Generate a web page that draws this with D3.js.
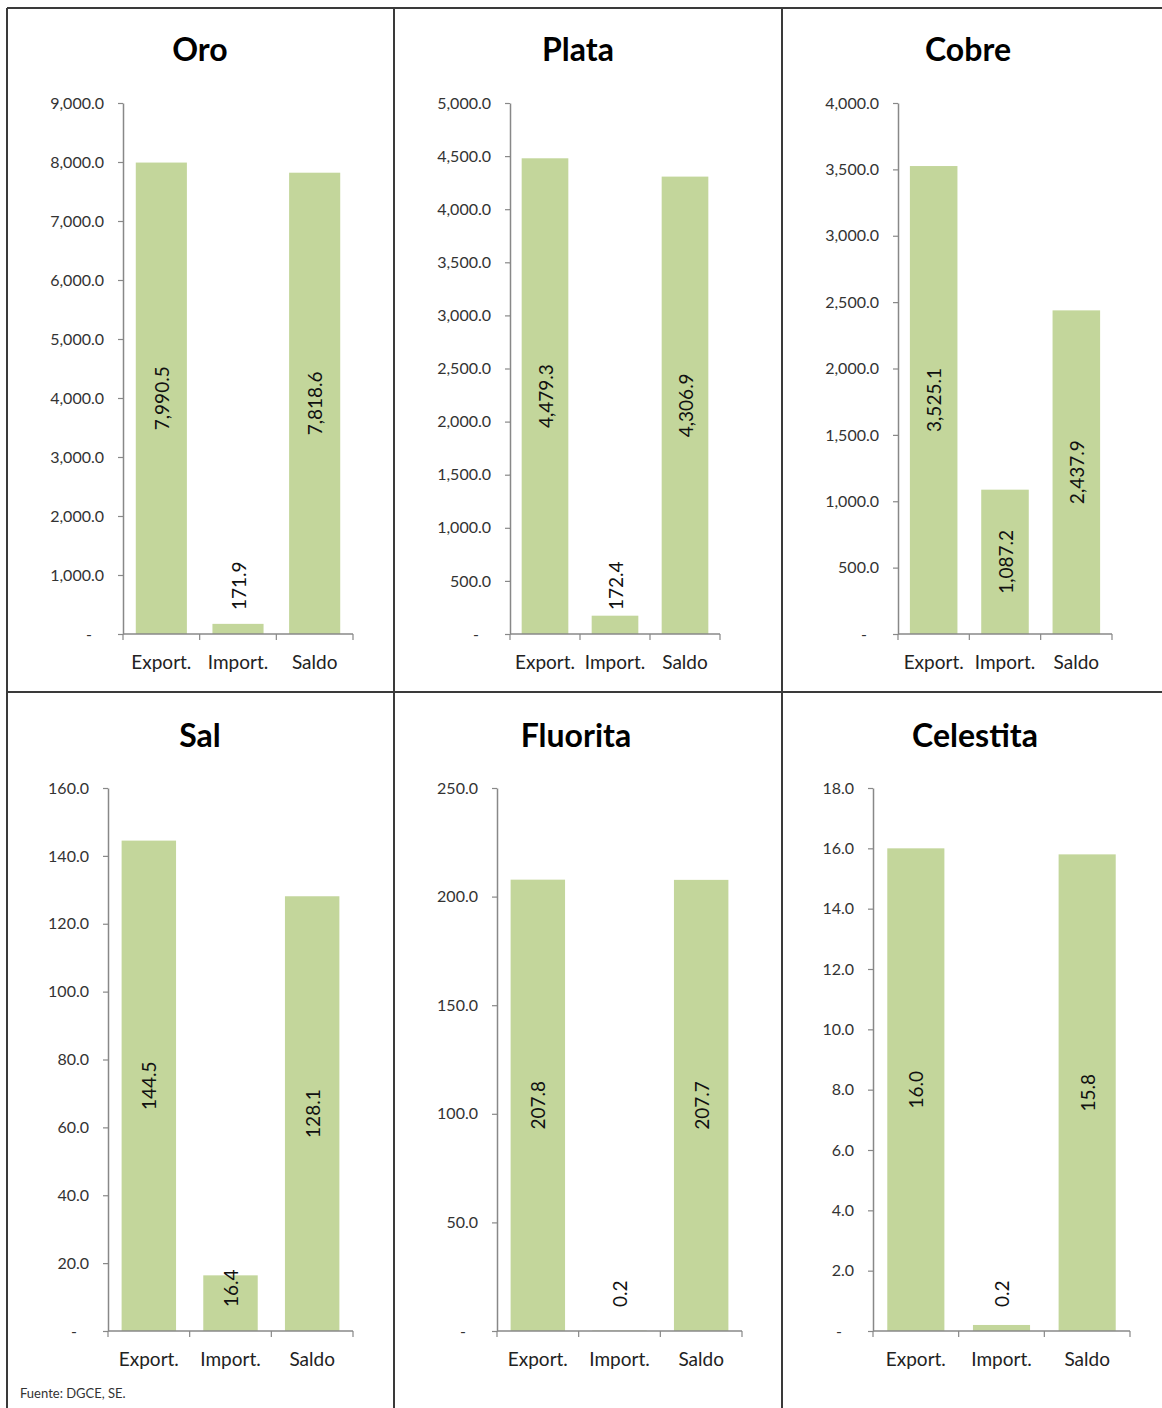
<!DOCTYPE html>
<html>
<head>
<meta charset="utf-8">
<script src="https://cdn.jsdelivr.net/npm/d3@7"></script>
<style>
  html, body { margin: 0; padding: 0; background: #fff; }
  svg { display: block; }
  text { font-family: Lato, "Open Sans", sans-serif; }
</style>
</head>
<body>
<svg id="chart" width="1162" height="1408"></svg>
<script>
// ---- data ----
const titles = ["Oro", "Plata", "Cobre", "Sal", "Fluorita", "Celestita"];
const categories = ["Export.", "Import.", "Saldo"];
const oroValues = [7990.5, 171.9, 7818.6];
const plataValues = [4479.3, 172.4, 4306.9];
const cobreValues = [3525.1, 1087.2, 2437.9];
const salValues = [144.5, 16.4, 128.1];
const fluoritaValues = [207.8, 0.2, 207.7];
const celestitaValues = [16.0, 0.2, 15.8];
const axisMax = [9000, 5000, 4000, 160, 250, 18];
const tickStep = [1000, 500, 500, 20, 50, 2];
const source = "Fuente: DGCE, SE.";

const seriesValues = [oroValues, plataValues, cobreValues, salValues, fluoritaValues, celestitaValues];

// ---- layout ----
const layout = [
  { x0: 123, x1: 353, yT: 103, yB: 634, tx: 200, ty: 61 },
  { x0: 510, x1: 720, yT: 103, yB: 634, tx: 578, ty: 61 },
  { x0: 898, x1: 1112, yT: 103, yB: 634, tx: 968, ty: 61 },
  { x0: 108, x1: 353, yT: 788, yB: 1331, tx: 200, ty: 747 },
  { x0: 497, x1: 742, yT: 788, yB: 1331, tx: 576, ty: 747 },
  { x0: 873, x1: 1130, yT: 788, yB: 1331, tx: 975, ty: 747 }
];

const barColor = "#c3d69b";
const axisColor = "#888888";
const svg = d3.select("#chart");
const fmt = d3.format(",.1f");

titles.forEach((title, i) => {
  const L = layout[i];
  const vals = seriesValues[i];
  const g = svg.append("g");

  const x = d3.scaleBand().domain(categories).range([L.x0, L.x1]).padding(0);
  const y = d3.scaleLinear().domain([0, axisMax[i]]).range([L.yB, L.yT]);

  // title
  g.append("text")
    .attr("x", L.tx).attr("y", L.ty)
    .attr("text-anchor", "middle")
    .attr("font-size", 32).attr("font-weight", 700)
    .attr("fill", "#000")
    .text(title);

  // bars
  const bw = x.bandwidth() * 2 / 3;
  g.selectAll("rect.bar").data(vals).join("rect")
    .attr("class", "bar")
    .attr("x", (d, j) => x(categories[j]) + (x.bandwidth() - bw) / 2)
    .attr("width", bw)
    .attr("y", d => y(d))
    .attr("height", d => y(0) - y(d))
    .attr("fill", barColor);

  // y axis
  const yAxis = d3.axisLeft(y)
    .tickValues(d3.range(0, axisMax[i] + tickStep[i] / 2, tickStep[i]))
    .tickFormat(d => d === 0 ? "-" : fmt(d))
    .tickSize(5).tickSizeOuter(0).tickPadding(14);
  const ya = g.append("g").attr("transform", `translate(${L.x0},0)`).call(yAxis);
  ya.select(".domain").attr("stroke", axisColor).attr("stroke-width", 1.5);
  ya.selectAll(".tick line").attr("stroke", axisColor).attr("stroke-width", 1.2);
  ya.selectAll(".tick text")
    .attr("font-size", 16).attr("fill", "#333")
    .attr("font-family", "Lato, 'Open Sans', sans-serif")
    .attr("dx", d => d === 0 ? -12 : 0);

  // x axis
  const xa = g.append("g").attr("transform", `translate(0,${L.yB})`);
  xa.append("line")
    .attr("x1", L.x0).attr("x2", L.x1).attr("y1", 0).attr("y2", 0)
    .attr("stroke", axisColor).attr("stroke-width", 1.5);
  const edges = categories.map(c => x(c)).concat([x.range()[1]]);
  xa.selectAll("line.tk").data(edges).join("line")
    .attr("class", "tk")
    .attr("x1", d => d).attr("x2", d => d)
    .attr("y1", 0).attr("y2", 6)
    .attr("stroke", axisColor).attr("stroke-width", 1.2);
  xa.selectAll("text.cat").data(categories).join("text")
    .attr("class", "cat")
    .attr("x", d => x(d) + x.bandwidth() / 2)
    .attr("y", 35)
    .attr("text-anchor", "middle")
    .attr("font-size", 19).attr("fill", "#222")
    .text(d => d);

  // value labels
  const labels = g.selectAll("text.val").data(vals).join("text")
    .attr("class", "val")
    .attr("font-size", 19).attr("fill", "#111")
    .attr("text-anchor", "middle")
    .attr("dominant-baseline", "central")
    .text(d => fmt(d));
  labels.each(function(d, j) {
    const len = this.getComputedTextLength();
    const cx = x(categories[j]) + x.bandwidth() / 2;
    const mid = (y(d) + y(0)) / 2;
    const cy = Math.min(mid, y(0) - 24 - len / 2);
    d3.select(this).attr("transform", `translate(${cx},${cy}) rotate(-90)`);
  });
});

// panel borders
const border = svg.append("g").attr("stroke", "#3a3a3a").attr("stroke-width", 2).attr("fill", "none");
border.append("line").attr("x1", 7).attr("x2", 1162).attr("y1", 8).attr("y2", 8);
border.append("line").attr("x1", 7).attr("x2", 7).attr("y1", 8).attr("y2", 1408);
border.append("line").attr("x1", 394).attr("x2", 394).attr("y1", 8).attr("y2", 1408);
border.append("line").attr("x1", 782).attr("x2", 782).attr("y1", 8).attr("y2", 1408);
border.append("line").attr("x1", 7).attr("x2", 1162).attr("y1", 692).attr("y2", 692);

// source
svg.append("text")
  .attr("x", 20).attr("y", 1398)
  .attr("font-size", 13).attr("fill", "#333")
  .text(source);
</script>
</body>
</html>
